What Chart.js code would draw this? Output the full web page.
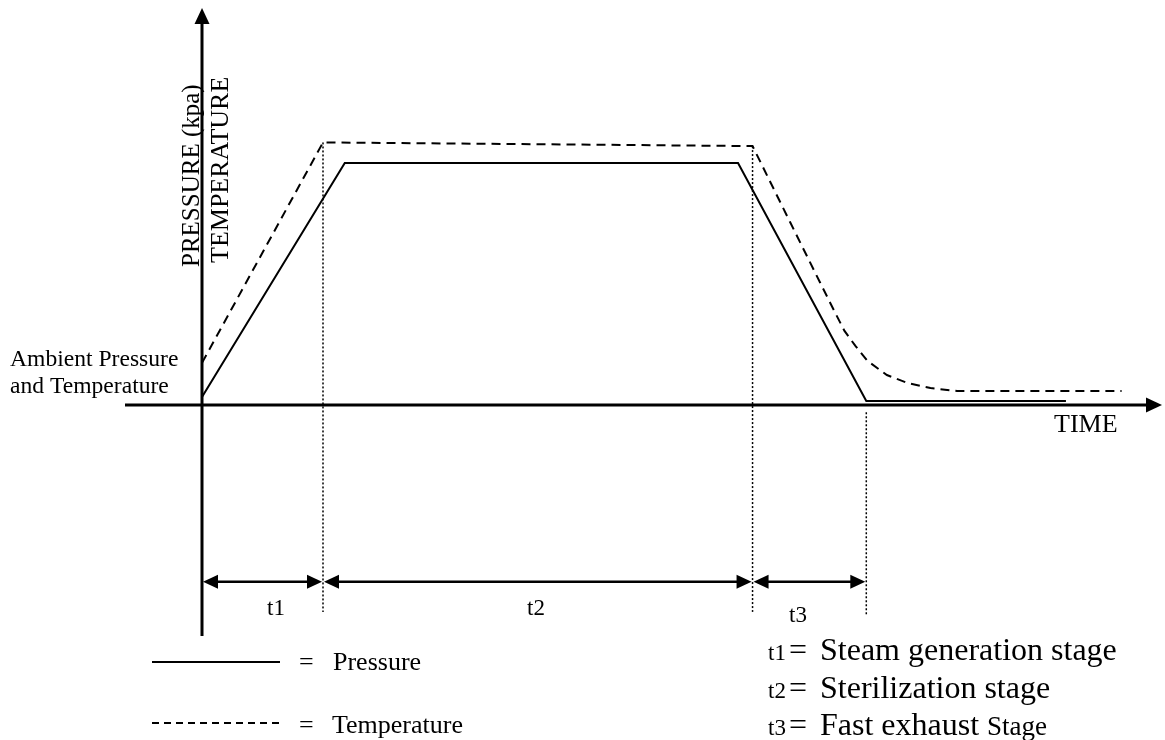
<!DOCTYPE html>
<html>
<head>
<meta charset="utf-8">
<title>Pressure and temperature during sterilization</title>
<script src="https://cdn.jsdelivr.net/npm/chart.js@4.4.1/dist/chart.umd.min.js"></script>
<style>
  html, body { margin: 0; padding: 0; background: #fff; }
  #wrap { width: 1165px; height: 740px; position: relative; }
</style>
</head>
<body>
<div id="wrap"><canvas id="cycleChart" width="1165" height="740"></canvas></div>
<script>
// ── Data (time in arbitrary minutes, value in arbitrary units) ──
const stageLabels = ['t1', 't2', 't3'];
const stageEnds   = [10, 45.5, 54.9];           // end of each stage on the time axis
const stageDescriptions = [
  ['t1', 'Steam generation stage', ''],
  ['t2', 'Sterilization stage', ''],
  ['t3', 'Fast exhaust ', 'Stage'],
];

const pressureTime  = [0, 11.8, 44.3, 54.9, 71.4];
const pressureValue = [3.3, 100, 100, 1.7, 1.7];

const temperatureTime  = [0, 10, 45.5, 48.6, 51.1, 52.3, 53.1, 54.0, 55.0, 56.6, 58.3, 60.2, 62.4, 76.0];
const temperatureValue = [17.4, 108.5, 107, 75.6, 50.4, 38.4, 30.6, 24.4, 18.2, 12.4, 9.1, 7.0, 5.8, 5.8];

// dotted stage dividers: top / bottom on the value axis
const dividerTop    = [108.5, 107, -3];
const dividerBottom = [-85.5, -85.5, -86.8];

// ── Layout ──────────────────────────────────────
const ORIGIN_X = 202, ORIGIN_Y = 405;
const PX_PER_MIN = 12.1, PX_PER_UNIT = 2.42;
const W = 1165, H = 740;
const DIM_Y = -73;                 // value where the stage arrows sit
const SERIF = '"Liberation Serif", "Times New Roman", serif';

const toPoints = (xs, ys) => xs.map((x, i) => ({ x, y: ys[i] }));

const dividerSets = stageEnds.map((t, i) => ({
  data: [{ x: t, y: dividerTop[i] }, { x: t, y: dividerBottom[i] }],
  borderColor: '#000', borderWidth: 1.5, borderDash: [2, 2],
  pointRadius: 0, showLine: true,
}));

// ── Drawing helpers ─────────────────────────────
function arrowHead(ctx, x, y, dir, len, half) {
  // dir: 'left' | 'right' | 'up'
  ctx.beginPath();
  if (dir === 'right') { ctx.moveTo(x, y); ctx.lineTo(x - len, y - half); ctx.lineTo(x - len, y + half); }
  if (dir === 'left')  { ctx.moveTo(x, y); ctx.lineTo(x + len, y - half); ctx.lineTo(x + len, y + half); }
  if (dir === 'up')    { ctx.moveTo(x, y); ctx.lineTo(x - half, y + len); ctx.lineTo(x + half, y + len); }
  ctx.closePath();
  ctx.fill();
}

function text(ctx, str, x, y, size) {
  ctx.font = `${size}px ${SERIF}`;
  ctx.fillText(str, x, y);
}

const diagramPlugin = {
  id: 'diagram',
  afterDatasetsDraw(chart) {
    const { ctx } = chart;
    const xs = chart.scales.x, ys = chart.scales.y;
    const ox = xs.getPixelForValue(0), oy = ys.getPixelForValue(0);
    ctx.save();
    ctx.fillStyle = '#000';
    ctx.strokeStyle = '#000';
    ctx.setLineDash([]);

    // axes
    ctx.lineWidth = 3;
    ctx.beginPath();
    ctx.moveTo(ox, 636); ctx.lineTo(ox, 22);
    ctx.moveTo(125, oy); ctx.lineTo(1148, oy);
    ctx.stroke();
    arrowHead(ctx, ox, 8, 'up', 16, 7.5);
    arrowHead(ctx, 1162, oy, 'right', 16, 7.5);

    // stage dimension arrows
    const dy = ys.getPixelForValue(DIM_Y);
    const bounds = [0, ...stageEnds].map(v => xs.getPixelForValue(v));
    ctx.lineWidth = 2.5;
    for (let i = 0; i < stageLabels.length; i++) {
      const a = bounds[i], b = bounds[i + 1];
      ctx.beginPath();
      ctx.moveTo(a + 10, dy); ctx.lineTo(b - 10, dy);
      ctx.stroke();
      arrowHead(ctx, a + 1, dy, 'left', 15, 7);
      arrowHead(ctx, b - 1, dy, 'right', 15, 7);
    }

    // stage labels under the arrows
    ctx.textBaseline = 'alphabetic';
    ctx.textAlign = 'left';
    text(ctx, stageLabels[0], 267, 615, 23);
    text(ctx, stageLabels[1], 527, 615, 23);
    text(ctx, stageLabels[2], 789, 622, 23);

    // axis titles
    ctx.save();
    ctx.translate(199, 267); ctx.rotate(-Math.PI / 2);
    text(ctx, 'PRESSURE (kpa)', 0, 0, 25);
    ctx.restore();
    ctx.save();
    ctx.translate(228, 263); ctx.rotate(-Math.PI / 2);
    text(ctx, 'TEMPERATURE', 0, 0, 26);
    ctx.restore();

    text(ctx, 'Ambient Pressure', 10, 366, 23.6);
    text(ctx, 'and Temperature', 10, 393, 23.6);
    text(ctx, 'TIME', 1054, 432, 26);

    // legend
    ctx.lineWidth = 2;
    ctx.beginPath(); ctx.moveTo(152, 662); ctx.lineTo(280, 662); ctx.stroke();
    ctx.setLineDash([7, 5]);
    ctx.beginPath(); ctx.moveTo(152, 723); ctx.lineTo(280, 723); ctx.stroke();
    ctx.setLineDash([]);
    text(ctx, '=', 299, 670, 26);
    text(ctx, chart.data.datasets[0].label, 333, 670, 26);
    text(ctx, '=', 299, 733, 26);
    text(ctx, chart.data.datasets[1].label, 332, 733, 26);

    // stage descriptions
    const rows = [660, 698, 735];
    stageDescriptions.forEach(([t, main, tail], i) => {
      text(ctx, t, 768, rows[i], 23);
      text(ctx, '=', 789, rows[i], 32);
      text(ctx, main, 820, rows[i], 32);
      if (tail) {
        ctx.font = `32px ${SERIF}`;
        const w = ctx.measureText(main).width;
        text(ctx, tail, 820 + w, rows[i], 27);
      }
    });

    ctx.restore();
  },
};

new Chart(document.getElementById('cycleChart'), {
  type: 'scatter',
  data: {
    datasets: [
      {
        label: 'Pressure',
        data: toPoints(pressureTime, pressureValue),
        borderColor: '#000', borderWidth: 2,
        pointRadius: 0, showLine: true,
      },
      {
        label: 'Temperature',
        data: toPoints(temperatureTime, temperatureValue),
        borderColor: '#000', borderWidth: 2, borderDash: [9, 6],
        pointRadius: 0, showLine: true,
      },
      ...dividerSets,
    ],
  },
  options: {
    responsive: false,
    animation: false,
    events: [],
    layout: { padding: 0 },
    plugins: { legend: { display: false }, tooltip: { enabled: false } },
    scales: {
      x: { type: 'linear', display: false,
           min: -ORIGIN_X / PX_PER_MIN, max: (W - ORIGIN_X) / PX_PER_MIN },
      y: { type: 'linear', display: false,
           min: -(H - ORIGIN_Y) / PX_PER_UNIT, max: ORIGIN_Y / PX_PER_UNIT },
    },
  },
  plugins: [diagramPlugin],
});
</script>
</body>
</html>
